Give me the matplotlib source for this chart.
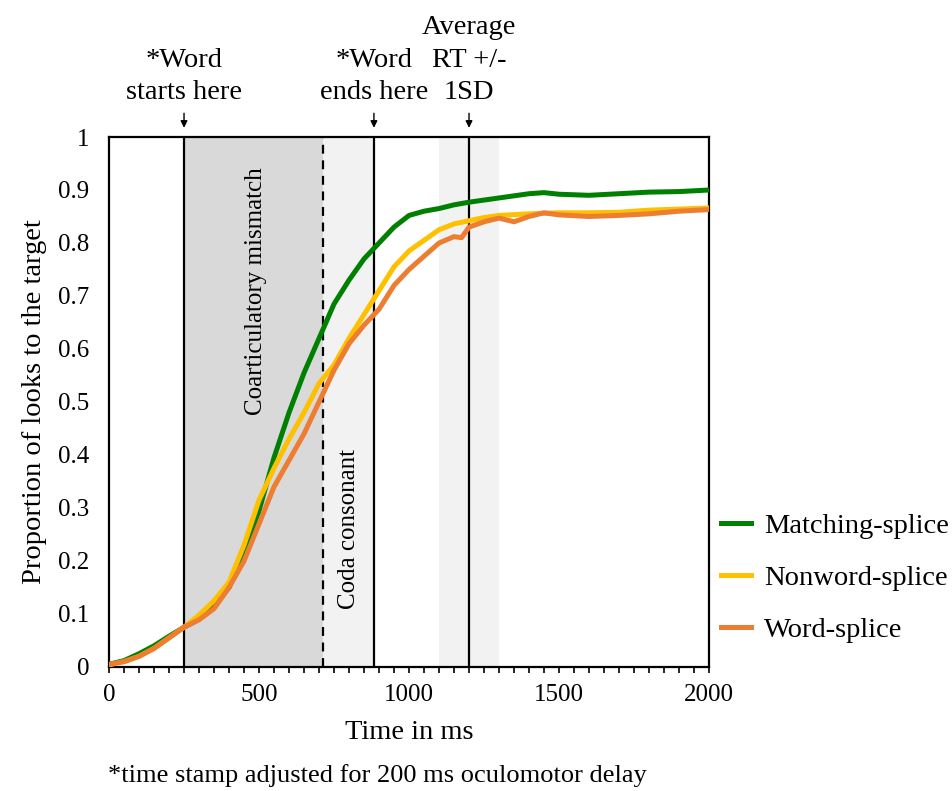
import numpy as np
import matplotlib.pyplot as plt
from matplotlib.ticker import MultipleLocator

plt.rcParams['font.family'] = ['Liberation Serif', 'DejaVu Serif']
plt.rcParams['font.size'] = 20.5

# ---- data

time_match = [0, 50, 100, 150, 200, 250, 300, 350, 400, 450, 500, 550, 600, 650, 700,
              750, 800, 850, 900, 950, 1000, 1050, 1100, 1150, 1200, 1300, 1400, 1450,
              1500, 1600, 1700, 1800, 1900, 2000]
matching = [0.005, 0.012, 0.025, 0.04, 0.058, 0.075, 0.09, 0.115, 0.15, 0.215, 0.295, 0.395,
            0.48, 0.555, 0.62, 0.685, 0.73, 0.77, 0.80, 0.83, 0.852, 0.86, 0.865, 0.872,
            0.877, 0.885, 0.893, 0.895, 0.892, 0.890, 0.893, 0.896, 0.897, 0.90]

time_nonword = [0, 50, 100, 150, 200, 250, 300, 350, 400, 450, 500, 550, 600, 650, 700,
                750, 800, 850, 900, 950, 1000, 1050, 1100, 1150, 1200, 1250, 1300, 1400,
                1500, 1600, 1700, 1800, 1900, 2000]
nonword = [0.004, 0.01, 0.02, 0.035, 0.055, 0.075, 0.098, 0.125, 0.16, 0.23, 0.315, 0.375,
           0.43, 0.48, 0.535, 0.57, 0.62, 0.665, 0.71, 0.755, 0.785, 0.805, 0.825, 0.836,
           0.842, 0.848, 0.852, 0.855, 0.857, 0.857, 0.858, 0.862, 0.864, 0.866]

time_word = [0, 50, 100, 150, 200, 250, 300, 350, 400, 450, 500, 550, 600, 650, 700,
             750, 800, 850, 900, 950, 1000, 1050, 1100, 1150, 1175, 1200, 1250, 1300,
             1350, 1400, 1450, 1500, 1600, 1700, 1800, 1900, 2000]
word = [0.005, 0.01, 0.02, 0.035, 0.055, 0.075, 0.089, 0.11, 0.15, 0.20, 0.27, 0.34,
        0.39, 0.44, 0.50, 0.56, 0.61, 0.645, 0.675, 0.72, 0.75, 0.775, 0.80, 0.812,
        0.81, 0.83, 0.84, 0.847, 0.84, 0.85, 0.857, 0.853, 0.85, 0.852, 0.855, 0.86, 0.863]

word_start = 250
coda_start = 713
word_end = 883
rt_mean, rt_sd = 1200, 100

fig = plt.figure(figsize=(9.53, 7.91), dpi=100)
ax = fig.add_axes([0.1144, 0.1568, 0.6296, 0.67])

# ---- shaded regions and marker lines
ax.axvspan(word_start, coda_start, color='#d9d9d9', lw=0, zorder=0)
ax.axvspan(coda_start, word_end, color='#f2f2f2', lw=0, zorder=0)
ax.axvspan(rt_mean - rt_sd, rt_mean + rt_sd, color='#f2f2f2', lw=0, zorder=0)
for t in (word_start, word_end, rt_mean):
    ax.axvline(t, color='black', lw=1.6, zorder=1)
ax.axvline(coda_start, color='black', lw=1.6, ls=(0, (4, 3)), zorder=1)

ax.text(490, 0.71, 'Coarticulatory mismatch', rotation=90, ha='center', va='center',
        fontsize=18)
ax.text(800, 0.26, 'Coda consonant', rotation=90, ha='center', va='center', fontsize=18)

# ---- curves
ax.plot(time_match, matching, color='#008000', lw=3.6, label='Matching-splice', zorder=3)
ax.plot(time_nonword, nonword, color='#ffc000', lw=3.6, label='Nonword-splice', zorder=3)
ax.plot(time_word, word, color='#ed7d31', lw=3.6, label='Word-splice', zorder=4)

ax.set_xlim(0, 2000)
ax.set_ylim(0, 1)
ax.set_xticks([0, 500, 1000, 1500, 2000])
ax.xaxis.set_minor_locator(MultipleLocator(50))
ax.tick_params(axis='x', which='both', direction='out', length=4, width=1.2, pad=8,
               labelsize=18)
ax.set_yticks(np.arange(0, 1.01, 0.1))
ax.set_yticklabels(['0', '0.1', '0.2', '0.3', '0.4', '0.5', '0.6', '0.7', '0.8', '0.9', '1'])
ax.tick_params(axis='y', length=0, pad=14, labelsize=18)
for s in ax.spines.values():
    s.set_linewidth(1.6)

ax.set_xlabel('Time in ms', labelpad=10)
ax.set_ylabel('Proportion of looks to the target', labelpad=8)

# ---- annotations above the plot
notes = [(word_start, '*Word\nstarts here'),
         (word_end, '*Word\nends here'),
         (rt_mean, 'Average\nRT +/-\n1SD')]
for t, label in notes:
    ax.annotate('', xy=(t, 1.012), xytext=(t, 1.05), annotation_clip=False,
                arrowprops=dict(arrowstyle='-|>', color='black', lw=1, mutation_scale=10))
    ax.text(t, 1.06, label, ha='center', va='bottom', linespacing=1.4)

ax.legend(loc='center left', bbox_to_anchor=(1.02, 0.168), frameon=False,
          handlelength=1.05, handletextpad=0.45, labelspacing=0.92, borderaxespad=0,
          borderpad=0)

fig.text(0.113, 0.012, '*time stamp adjusted for 200 ms oculomotor delay', fontsize=19)

fig.savefig('out.png', dpi=100)
